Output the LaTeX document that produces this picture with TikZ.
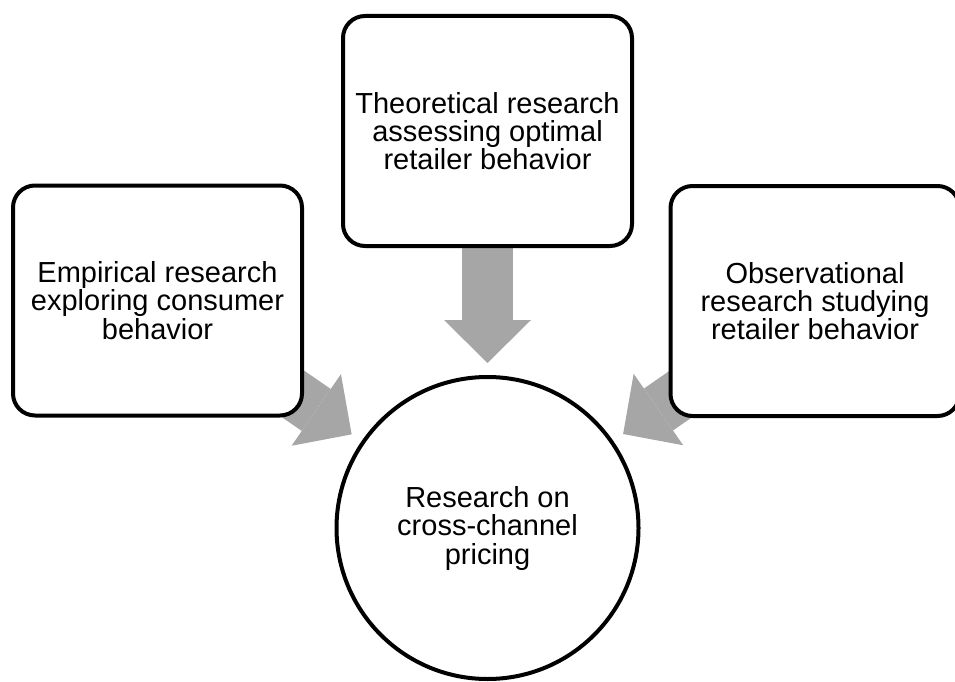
\documentclass[tikz,border=0pt]{standalone}
\usepackage{fontspec}
\setmainfont{Liberation Sans}
\usetikzlibrary{arrows.meta,backgrounds}
\definecolor{arrowgray}{RGB}{166,166,166}

\begin{document}
\begin{tikzpicture}[x=1pt,y=-1pt]
% Styles
\tikzset{
  research box/.style={draw,line width=4pt,rounded corners=22pt,fill=white,
    minimum width=289pt,minimum height=230pt,align=center,
    font=\fontsize{29}{28.3}\selectfont},
  research circle/.style={draw,circle,line width=4pt,fill=white,
    minimum size=302pt,align=center,font=\fontsize{29}{28.5}\selectfont},
  feed arrow/.style={arrowgray,line width=51pt,shorten >=12pt,
    -{Triangle[width=87pt,length=43pt,line width=0pt]}}
}
\useasboundingbox (0,0) rectangle (955,682);

% draw the nodes
\node[research box] (empirical) at (157.5,300.5) {Empirical research\\exploring consumer\\behavior};
\node[research box] (theoretical) at (487.5,131) {Theoretical research\\assessing optimal\\retailer behavior};
\node[research box] (observational) at (815,301) {Observational\\research studying\\retailer behavior};

\node[research circle] (pricing) at (487.5,528) {Research on\\cross-channel\\pricing};

% fill arrows
\begin{scope}[on background layer]
\foreach \src in {empirical,theoretical,observational} {
\draw[feed arrow] (\src.center) -- (pricing);
}
\end{scope}

\end{tikzpicture}
\end{document}
